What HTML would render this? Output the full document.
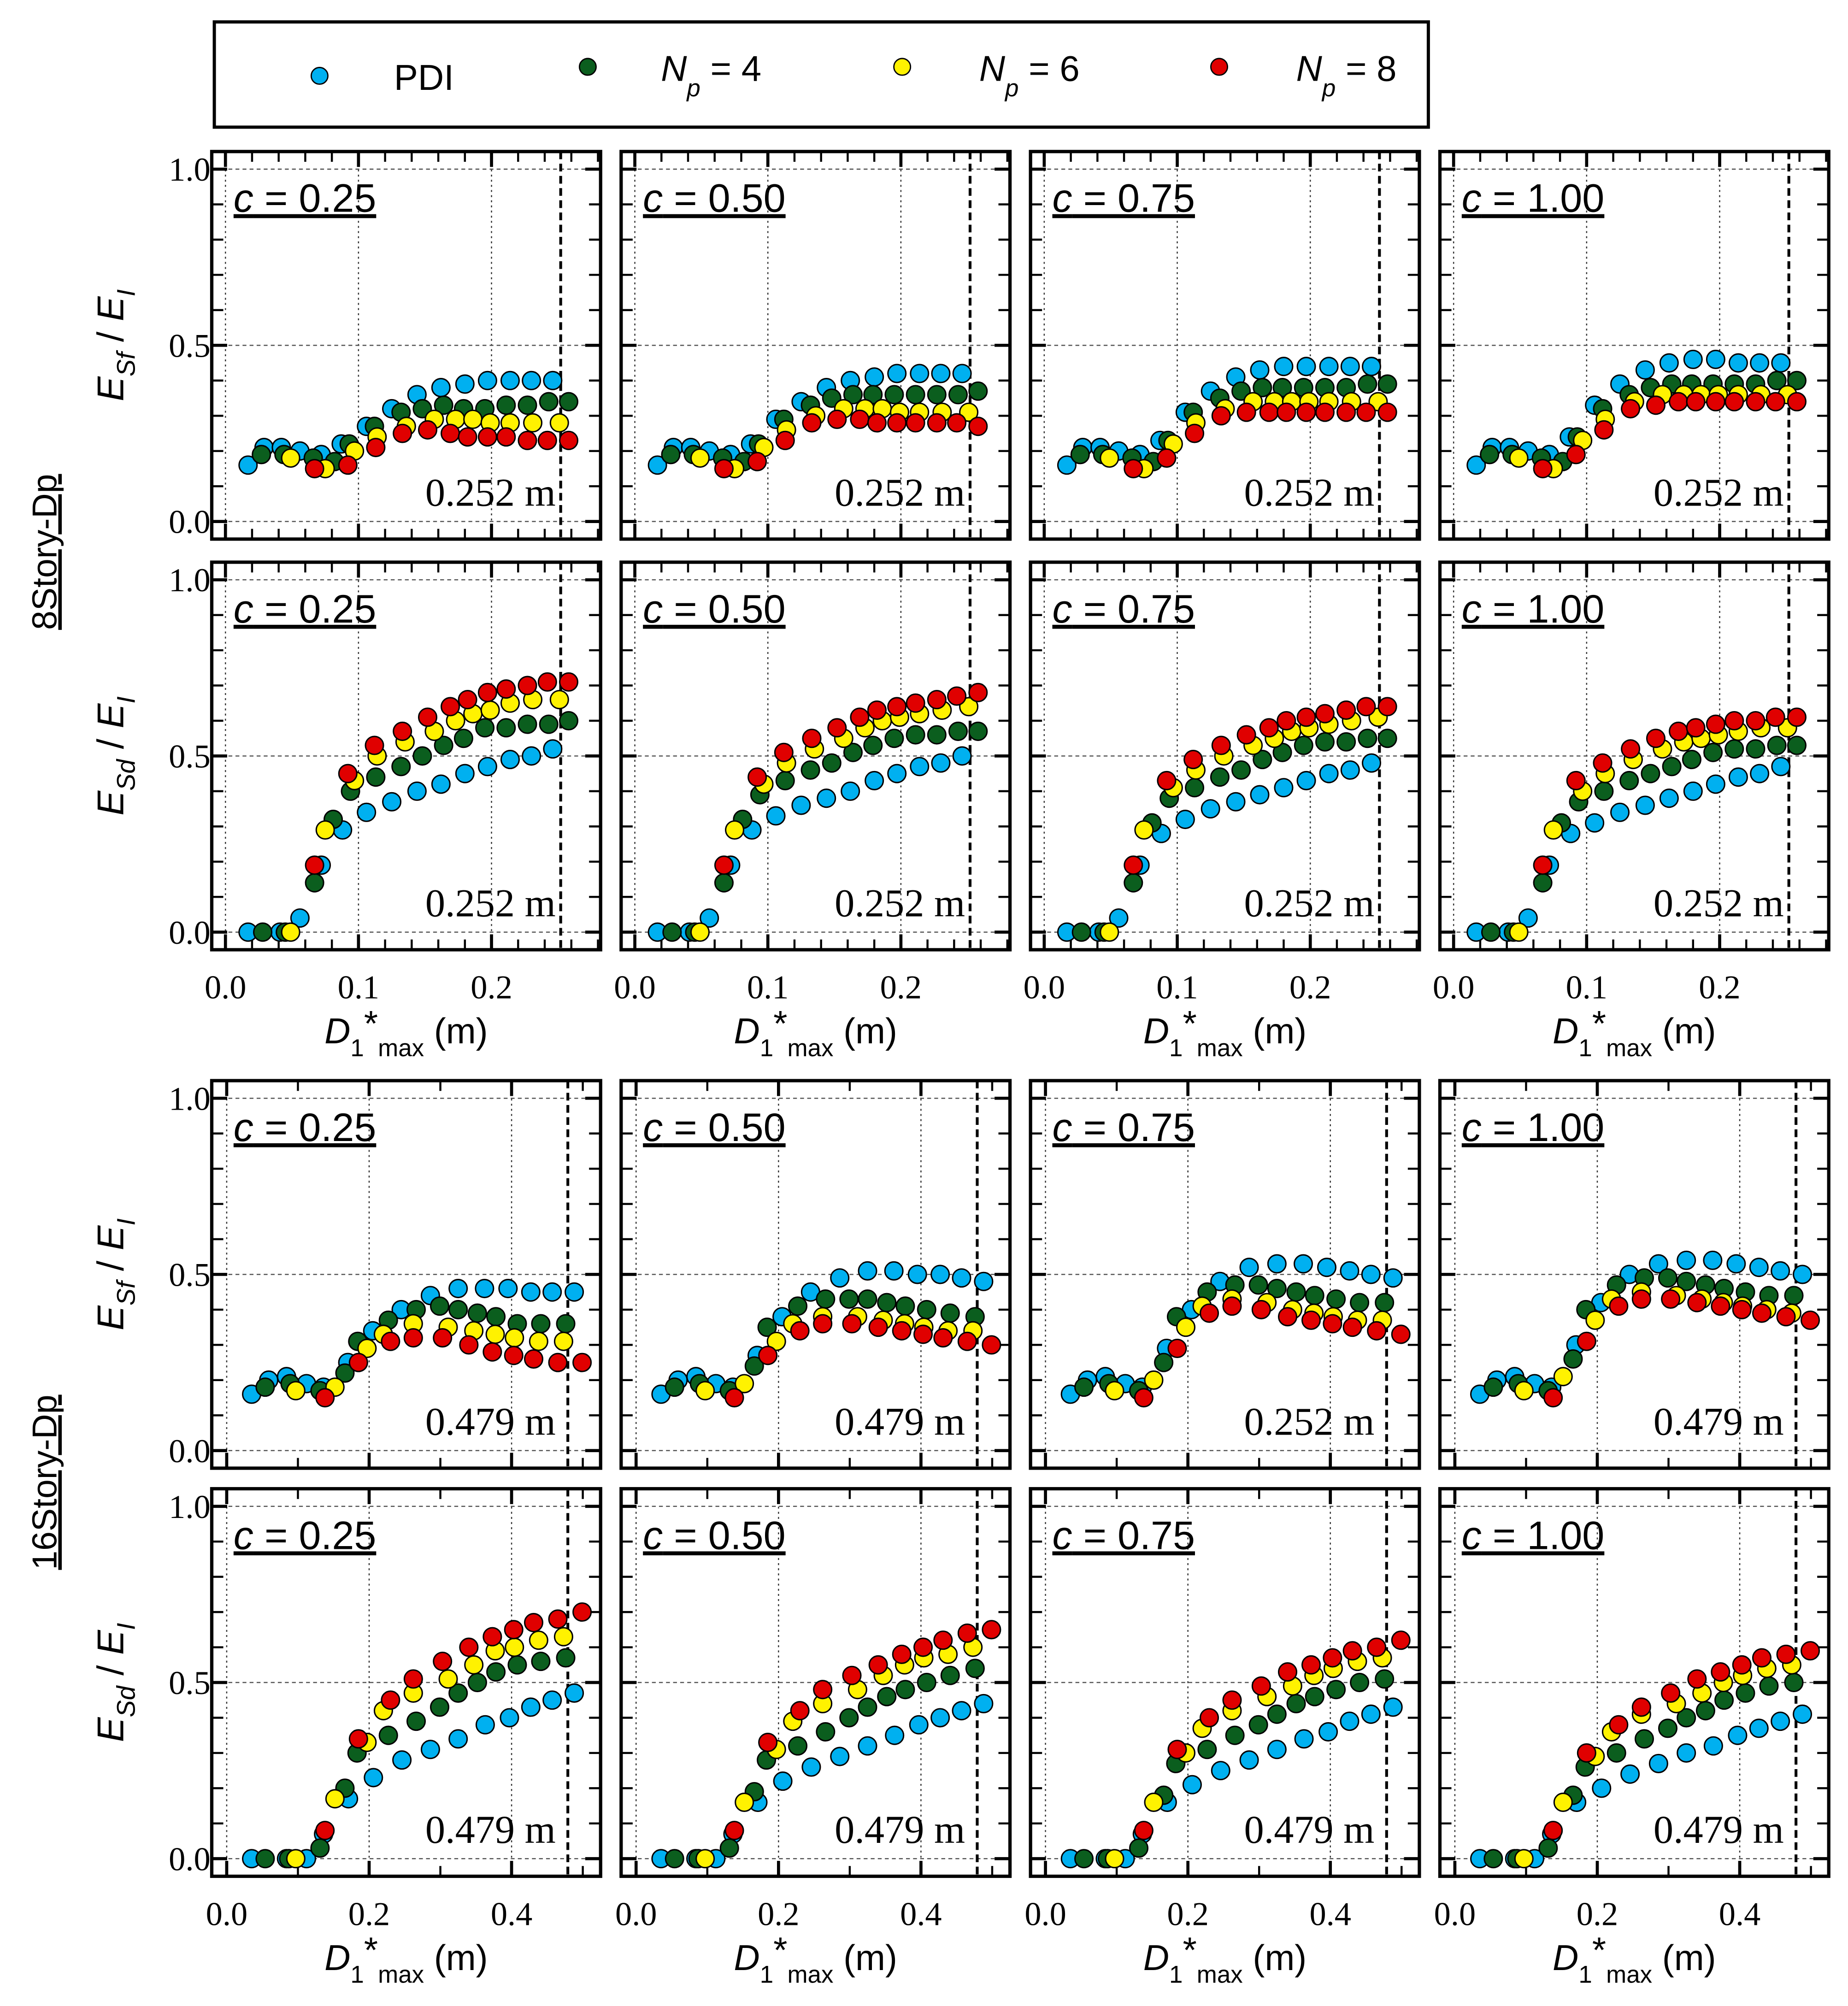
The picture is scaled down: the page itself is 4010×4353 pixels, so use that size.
<!DOCTYPE html>
<html><head><meta charset="utf-8"><style>
html,body{margin:0;padding:0;background:#fff;}
svg{display:block;}
</style></head>
<body>
<svg id="chart" width="4010" height="4353" viewBox="0 0 1440 1563" xmlns="http://www.w3.org/2000/svg">
<g>
<rect x="167" y="17" width="946" height="82" fill="#fff" stroke="#000" stroke-width="2.5"/>
<circle cx="249" cy="59" r="6.5" fill="#00B0F0" stroke="#000" stroke-width="1"/>
<text x="307" y="70" font-family="Liberation Sans, sans-serif" font-size="28">PDI</text>
<circle cx="458" cy="52" r="6.5" fill="#0B5E1E" stroke="#000" stroke-width="1"/>
<text x="515" y="63" font-family="Liberation Sans, sans-serif" font-size="28"><tspan font-style="italic">N</tspan><tspan font-size="19" font-style="italic" dy="12">p</tspan><tspan dy="-12"> = 4</tspan></text>
<circle cx="703" cy="52" r="6.5" fill="#FFF200" stroke="#000" stroke-width="1"/>
<text x="763" y="63" font-family="Liberation Sans, sans-serif" font-size="28"><tspan font-style="italic">N</tspan><tspan font-size="19" font-style="italic" dy="12">p</tspan><tspan dy="-12"> = 6</tspan></text>
<circle cx="950" cy="52" r="6.5" fill="#E00000" stroke="#000" stroke-width="1"/>
<text x="1010" y="63" font-family="Liberation Sans, sans-serif" font-size="28"><tspan font-style="italic">N</tspan><tspan font-size="19" font-style="italic" dy="12">p</tspan><tspan dy="-12"> = 8</tspan></text>
</g>
<text transform="translate(44,430) rotate(-90)" text-anchor="middle" font-family="Liberation Sans, sans-serif" font-size="27" text-decoration="underline">8Story-Dp</text>
<text transform="translate(44,1155) rotate(-90)" text-anchor="middle" font-family="Liberation Sans, sans-serif" font-size="27" text-decoration="underline">16Story-Dp</text>
</svg>
<script>
const cLabels = ["0.25","0.50","0.75","1.00"];
const seriesNames = ["pdi","np4","np6","np8"];
const seriesColors = ["#00B0F0","#0B5E1E","#FFF200","#E00000"];
const ticks8 = ["0.0","0.1","0.2"];
const tickVals8 = [0,0.1,0.2];
const ticks16 = ["0.0","0.2","0.4"];
const tickVals16 = [0,0.2,0.4];
const yTickLabels = ["0.0","0.5","1.0"];
const yTickVals = [0,0.5,1.0];

// 8-story, E_Sf / E_I
const x8sfPdi = [0.017,0.029,0.042,0.056,0.072,0.087,0.106,0.125,0.144,0.162,0.180,0.197,0.214,0.230,0.246];
const x8sfNp4 = [0.027,0.044,0.066,0.082,0.093,0.112,0.132,0.148,0.164,0.179,0.195,0.211,0.227,0.243,0.258];
const x8sfNp6 = [0.049,0.075,0.097,0.114,0.136,0.157,0.173,0.186,0.199,0.214,0.231,0.251];
const x8sfNp8 = [0.067,0.092,0.113,0.133,0.152,0.169,0.182,0.197,0.211,0.227,0.242,0.258];
const y8sfPdi = [
 [0.16,0.21,0.21,0.20,0.19,0.22,0.27,0.32,0.36,0.38,0.39,0.40,0.40,0.40,0.40],
 [0.16,0.21,0.21,0.20,0.19,0.22,0.29,0.34,0.38,0.40,0.41,0.42,0.42,0.42,0.42],
 [0.16,0.21,0.21,0.20,0.19,0.23,0.31,0.37,0.41,0.43,0.44,0.44,0.44,0.44,0.44],
 [0.16,0.21,0.21,0.20,0.19,0.24,0.33,0.39,0.43,0.45,0.46,0.46,0.45,0.45,0.45]];
const y8sfNp4 = [
 [0.19,0.19,0.18,0.17,0.22,0.27,0.31,0.32,0.33,0.32,0.32,0.33,0.33,0.34,0.34],
 [0.19,0.19,0.18,0.17,0.22,0.29,0.33,0.35,0.36,0.36,0.36,0.36,0.36,0.36,0.37],
 [0.19,0.19,0.18,0.17,0.23,0.31,0.35,0.37,0.38,0.38,0.38,0.38,0.38,0.39,0.39],
 [0.19,0.19,0.18,0.17,0.24,0.32,0.36,0.38,0.39,0.39,0.39,0.39,0.39,0.40,0.40]];
const y8sfNp6 = [
 [0.18,0.15,0.20,0.24,0.27,0.29,0.29,0.29,0.28,0.28,0.28,0.28],
 [0.18,0.15,0.21,0.26,0.30,0.32,0.32,0.32,0.31,0.31,0.31,0.31],
 [0.18,0.15,0.22,0.28,0.32,0.34,0.34,0.34,0.34,0.34,0.34,0.34],
 [0.18,0.15,0.23,0.29,0.34,0.36,0.36,0.36,0.36,0.36,0.36,0.36]];
const y8sfNp8 = [
 [0.15,0.16,0.21,0.25,0.26,0.25,0.24,0.24,0.24,0.23,0.23,0.23],
 [0.15,0.17,0.23,0.28,0.29,0.29,0.28,0.28,0.28,0.28,0.28,0.27],
 [0.15,0.18,0.25,0.30,0.31,0.31,0.31,0.31,0.31,0.31,0.31,0.31],
 [0.15,0.19,0.26,0.32,0.33,0.34,0.34,0.34,0.34,0.34,0.34,0.34]];

// 8-story, E_Sd / E_I
const x8sdPdi = [0.017,0.041,0.056,0.072,0.088,0.106,0.125,0.144,0.162,0.180,0.197,0.214,0.230,0.246];
const x8sdNp4 = [0.028,0.045,0.067,0.081,0.094,0.113,0.132,0.148,0.164,0.179,0.195,0.211,0.227,0.243,0.258];
const x8sdNp6 = [0.049,0.075,0.097,0.114,0.135,0.157,0.173,0.186,0.199,0.214,0.231,0.251];
const x8sdNp8 = [0.067,0.092,0.112,0.133,0.152,0.169,0.182,0.197,0.211,0.227,0.242,0.258];
const y8sdPdi = [
 [0,0,0.04,0.19,0.29,0.34,0.37,0.40,0.42,0.45,0.47,0.49,0.50,0.52],
 [0,0,0.04,0.19,0.29,0.33,0.36,0.38,0.40,0.43,0.45,0.47,0.48,0.50],
 [0,0,0.04,0.19,0.28,0.32,0.35,0.37,0.39,0.41,0.43,0.45,0.46,0.48],
 [0,0,0.04,0.19,0.28,0.31,0.34,0.36,0.38,0.40,0.42,0.44,0.45,0.47]];
const y8sdNp4 = [
 [0,0,0.14,0.32,0.40,0.44,0.47,0.50,0.53,0.55,0.58,0.58,0.59,0.59,0.60],
 [0,0,0.14,0.32,0.39,0.43,0.46,0.48,0.51,0.53,0.55,0.56,0.56,0.57,0.57],
 [0,0,0.14,0.31,0.38,0.41,0.44,0.46,0.49,0.51,0.53,0.54,0.54,0.55,0.55],
 [0,0,0.14,0.31,0.37,0.40,0.43,0.45,0.47,0.49,0.51,0.52,0.52,0.53,0.53]];
const y8sdNp6 = [
 [0,0.29,0.43,0.50,0.54,0.57,0.60,0.62,0.63,0.65,0.66,0.66],
 [0,0.29,0.42,0.48,0.52,0.55,0.58,0.60,0.61,0.62,0.63,0.64],
 [0,0.29,0.41,0.46,0.50,0.53,0.55,0.57,0.58,0.59,0.60,0.61],
 [0,0.29,0.40,0.45,0.49,0.52,0.54,0.55,0.56,0.57,0.58,0.58]];
const y8sdNp8 = [
 [0.19,0.45,0.53,0.57,0.61,0.64,0.66,0.68,0.69,0.70,0.71,0.71],
 [0.19,0.44,0.51,0.55,0.58,0.61,0.63,0.64,0.65,0.66,0.67,0.68],
 [0.19,0.43,0.49,0.53,0.56,0.58,0.60,0.61,0.62,0.63,0.64,0.64],
 [0.19,0.43,0.48,0.52,0.55,0.57,0.58,0.59,0.60,0.60,0.61,0.61]];

// 16-story, E_Sf / E_I
const x16sfPdi = [0.035,0.059,0.084,0.112,0.136,0.170,0.205,0.245,0.286,0.325,0.362,0.395,0.427,0.457,0.488];
const x16sfNp4 = [0.054,0.089,0.131,0.166,0.184,0.227,0.266,0.299,0.325,0.352,0.378,0.408,0.441,0.476];
const x16sfNp6 = [0.097,0.152,0.197,0.220,0.262,0.311,0.347,0.377,0.404,0.438,0.473];
const x16sfNp8 = [0.138,0.185,0.230,0.262,0.303,0.340,0.373,0.403,0.431,0.465,0.499];
const y16sfPdi = [
 [0.16,0.20,0.21,0.19,0.18,0.25,0.34,0.40,0.44,0.46,0.46,0.46,0.45,0.45,0.45],
 [0.16,0.20,0.21,0.19,0.18,0.27,0.38,0.45,0.49,0.51,0.51,0.50,0.50,0.49,0.48],
 [0.16,0.20,0.21,0.19,0.18,0.29,0.40,0.48,0.52,0.53,0.53,0.52,0.51,0.50,0.49],
 [0.16,0.20,0.21,0.19,0.18,0.30,0.42,0.50,0.53,0.54,0.54,0.53,0.52,0.51,0.50]];
const y16sfNp4 = [
 [0.18,0.19,0.17,0.22,0.31,0.37,0.40,0.41,0.40,0.39,0.38,0.36,0.36,0.36],
 [0.18,0.19,0.17,0.24,0.35,0.41,0.43,0.43,0.43,0.42,0.41,0.40,0.39,0.38],
 [0.18,0.19,0.17,0.25,0.38,0.45,0.47,0.47,0.46,0.45,0.44,0.43,0.42,0.42],
 [0.18,0.19,0.17,0.26,0.40,0.47,0.49,0.49,0.48,0.47,0.46,0.45,0.44,0.44]];
const y16sfNp6 = [
 [0.17,0.18,0.29,0.33,0.36,0.35,0.34,0.33,0.32,0.31,0.31],
 [0.17,0.19,0.31,0.36,0.38,0.38,0.37,0.36,0.35,0.34,0.34],
 [0.17,0.20,0.35,0.41,0.43,0.42,0.40,0.39,0.38,0.37,0.37],
 [0.17,0.21,0.37,0.43,0.45,0.44,0.43,0.42,0.41,0.40,0.39]];
const y16sfNp8 = [
 [0.15,0.25,0.31,0.32,0.32,0.30,0.28,0.27,0.26,0.25,0.25],
 [0.15,0.27,0.34,0.36,0.36,0.35,0.34,0.33,0.32,0.31,0.30],
 [0.15,0.29,0.39,0.41,0.40,0.38,0.37,0.36,0.35,0.34,0.33],
 [0.15,0.31,0.41,0.43,0.43,0.42,0.41,0.40,0.39,0.38,0.37]];

// 16-story, E_Sd / E_I
const x16sdPdi = [0.035,0.084,0.112,0.136,0.171,0.206,0.246,0.286,0.325,0.363,0.397,0.427,0.457,0.488];
const x16sdNp4 = [0.054,0.087,0.131,0.166,0.183,0.227,0.266,0.299,0.325,0.352,0.378,0.408,0.441,0.476];
const x16sdNp6 = [0.097,0.152,0.197,0.220,0.262,0.311,0.347,0.377,0.404,0.438,0.473];
const x16sdNp8 = [0.138,0.185,0.230,0.262,0.303,0.340,0.373,0.403,0.431,0.465,0.499];
const y16sdPdi = [
 [0,0,0,0.07,0.17,0.23,0.28,0.31,0.34,0.38,0.40,0.43,0.45,0.47],
 [0,0,0,0.07,0.16,0.22,0.26,0.29,0.32,0.35,0.38,0.40,0.42,0.44],
 [0,0,0,0.07,0.16,0.21,0.25,0.28,0.31,0.34,0.36,0.39,0.41,0.43],
 [0,0,0,0.07,0.16,0.20,0.24,0.27,0.30,0.32,0.35,0.37,0.39,0.41]];
const y16sdNp4 = [
 [0,0,0.03,0.20,0.30,0.35,0.39,0.43,0.47,0.50,0.53,0.55,0.56,0.57],
 [0,0,0.03,0.19,0.28,0.32,0.36,0.40,0.43,0.46,0.48,0.50,0.52,0.54],
 [0,0,0.03,0.18,0.27,0.31,0.35,0.38,0.41,0.44,0.46,0.48,0.50,0.51],
 [0,0,0.03,0.18,0.26,0.30,0.34,0.37,0.40,0.42,0.45,0.47,0.49,0.50]];
const y16sdNp6 = [
 [0,0.17,0.33,0.42,0.47,0.51,0.55,0.59,0.60,0.62,0.63],
 [0,0.16,0.31,0.39,0.44,0.48,0.52,0.55,0.57,0.58,0.60],
 [0,0.16,0.30,0.37,0.42,0.46,0.49,0.52,0.54,0.56,0.57],
 [0,0.16,0.29,0.36,0.41,0.44,0.47,0.50,0.52,0.54,0.55]];
const y16sdNp8 = [
 [0.08,0.34,0.45,0.51,0.56,0.60,0.63,0.65,0.67,0.68,0.70],
 [0.08,0.33,0.42,0.48,0.52,0.55,0.58,0.60,0.62,0.64,0.65],
 [0.08,0.31,0.40,0.45,0.49,0.53,0.55,0.57,0.59,0.60,0.62],
 [0.08,0.30,0.38,0.43,0.47,0.51,0.53,0.55,0.57,0.58,0.59]];

const limitValues = [0.252,0.252,0.479,0.479];
const limitLabels = [["0.252 m","0.252 m","0.252 m","0.252 m"],["0.252 m","0.252 m","0.252 m","0.252 m"],["0.479 m","0.479 m","0.252 m","0.479 m"],["0.479 m","0.479 m","0.479 m","0.479 m"]];

const NS = "http://www.w3.org/2000/svg";
const svg = document.getElementById("chart");
function mk(tag, attrs, parent){
  const e = document.createElementNS(NS, tag);
  for (const k in attrs) e.setAttribute(k, attrs[k]);
  (parent||svg).appendChild(e);
  return e;
}
const colLeft = [165,484,803,1122];
const rowTop = [118,438,842,1160];
const PW = 303, PH = 302;
const yDom = [-0.05,1.05];
const rows = [
 {id:"8story-sf", xd:[-0.0103,0.282], minor:0.02, major:0.1, tl:ticks8, tv:tickVals8, sub:"Sf", xs:[x8sfPdi,x8sfNp4,x8sfNp6,x8sfNp8], ys:[y8sfPdi,y8sfNp4,y8sfNp6,y8sfNp8], xlab:false},
 {id:"8story-sd", xd:[-0.0103,0.282], minor:0.02, major:0.1, tl:ticks8, tv:tickVals8, sub:"Sd", xs:[x8sdPdi,x8sdNp4,x8sdNp6,x8sdNp8], ys:[y8sdPdi,y8sdNp4,y8sdNp6,y8sdNp8], xlab:true},
 {id:"16story-sf", xd:[-0.021,0.525], minor:0.1, major:0.2, tl:ticks16, tv:tickVals16, sub:"Sf", xs:[x16sfPdi,x16sfNp4,x16sfNp6,x16sfNp8], ys:[y16sfPdi,y16sfNp4,y16sfNp6,y16sfNp8], xlab:false},
 {id:"16story-sd", xd:[-0.021,0.525], minor:0.1, major:0.2, tl:ticks16, tv:tickVals16, sub:"Sd", xs:[x16sdPdi,x16sdNp4,x16sdNp6,x16sdNp8], ys:[y16sdPdi,y16sdNp4,y16sdNp6,y16sdNp8], xlab:true}
];
rows.forEach((R, ri) => {
  const top = rowTop[ri];
  const yt = mk("text", {transform:`translate(96,${top+PH/2}) rotate(-90)`, "text-anchor":"middle", "font-family":"Liberation Sans, sans-serif", "font-size":"29"});
  
  
  yt.innerHTML = `<tspan font-style="italic">E</tspan><tspan font-size="20" font-style="italic" dy="9">${R.sub}</tspan><tspan dy="-9"> / </tspan><tspan font-style="italic">E</tspan><tspan font-size="20" font-style="italic" dy="9">I</tspan>`;
  cLabels.forEach((cl, ci) => {
    const left = colLeft[ci];
    const sx = v => left + (v - R.xd[0]) / (R.xd[1] - R.xd[0]) * PW;
    const sy = v => top + PH - (v - yDom[0]) / (yDom[1] - yDom[0]) * PH;
    const g = mk("g", {});
    
    
    R.tv.forEach(v => {
      const l = mk("line", {x1:sx(v), x2:sx(v), y1:top+2, y2:top+PH-2, stroke:"#333", "stroke-width":"0.9", "stroke-dasharray":"1.5 2.5"}, g);
      
      
    });
    yTickVals.forEach(v => {
      const l = mk("line", {x1:left+2, x2:left+PW-2, y1:sy(v), y2:sy(v), stroke:"#555", "stroke-width":"0.9", "stroke-dasharray":"3 2.5"}, g);
      
      
    });
    for (let k = 0; k * R.minor <= R.xd[1] + 1e-9; k++) {
      const v = k * R.minor;
      const isMaj = Math.abs(v / R.major - Math.round(v / R.major)) < 1e-6;
      const len = isMaj ? 12 : 8;
      const w = isMaj ? 2.4 : 1.6;
      const t1 = mk("line", {x1:sx(v), x2:sx(v), y1:top+PH, y2:top+PH-len, stroke:"#000", "stroke-width":w}, g);
      
      
      const t2 = mk("line", {x1:sx(v), x2:sx(v), y1:top, y2:top+len, stroke:"#000", "stroke-width":w}, g);
      
      
    }
    for (let k = 0; k <= 10; k++) {
      const v = k / 10;
      const isMaj = k % 5 === 0;
      const len = isMaj ? 12 : 9;
      const w = isMaj ? 2.4 : 1.6;
      const t1 = mk("line", {x1:left, x2:left+len, y1:sy(v), y2:sy(v), stroke:"#000", "stroke-width":w}, g);
      
      
      const t2 = mk("line", {x1:left+PW, x2:left+PW-len, y1:sy(v), y2:sy(v), stroke:"#000", "stroke-width":w}, g);
      
      
    }
    const dl = mk("line", {x1:sx(limitValues[ri]), x2:sx(limitValues[ri]), y1:top, y2:top+PH, stroke:"#000", "stroke-width":"2.2", "stroke-dasharray":"6 3.5"}, g);
    
    
    const ct = mk("text", {x:left+17, y:top+47, "font-family":"Liberation Sans, sans-serif", "font-size":"31", "text-decoration":"underline"}, g);
    
    
    ct.innerHTML = `<tspan font-style="italic">c</tspan> = ${cl}`;
    const lt = mk("text", {x:left+268, y:top+276, "text-anchor":"end", "font-family":"Liberation Serif, serif", "font-size":"31"}, g);
    
    
    lt.textContent = limitLabels[ri][ci];
    R.xs.forEach((xa, si) => {
      const ya = R.ys[si][ci];
      const sg = mk("g", {}, g);
      
      
      xa.forEach((xv, pi) => {
        const c = mk("circle", {cx:sx(xv), cy:sy(ya[pi]), r:"7", fill:seriesColors[si], stroke:"#000", "stroke-width":"1.1"}, sg);
        
        
      });
    });
    const fr = mk("rect", {x:left, y:top, width:PW, height:PH, fill:"none", stroke:"#000", "stroke-width":"2.6"}, g);
    
    
    if (ci === 0) {
      yTickVals.forEach((v, k) => {
        const t = mk("text", {x:left-1, y:sy(v)+9, "text-anchor":"end", "font-family":"Liberation Serif, serif", "font-size":"26"}, g);
        
        
        t.textContent = yTickLabels[k];
      });
    }
    if (R.xlab) {
      R.tv.forEach((v, k) => {
        const t = mk("text", {x:sx(v), y:top+PH+38, "text-anchor":"middle", "font-family":"Liberation Serif, serif", "font-size":"26"}, g);
        
        
        t.textContent = R.tl[k];
      });
      const xt = mk("text", {x:left+PW/2, y:top+PH+73, "text-anchor":"middle", "font-family":"Liberation Sans, sans-serif", "font-size":"28"}, g);
      
      
      xt.innerHTML = `<tspan font-style="italic">D</tspan><tspan font-size="19" dy="10">1</tspan><tspan dy="-16">*</tspan><tspan font-size="19" dy="16">max</tspan><tspan dy="-10"> (m)</tspan>`;
    }
  });
});
</script>
</body></html>
